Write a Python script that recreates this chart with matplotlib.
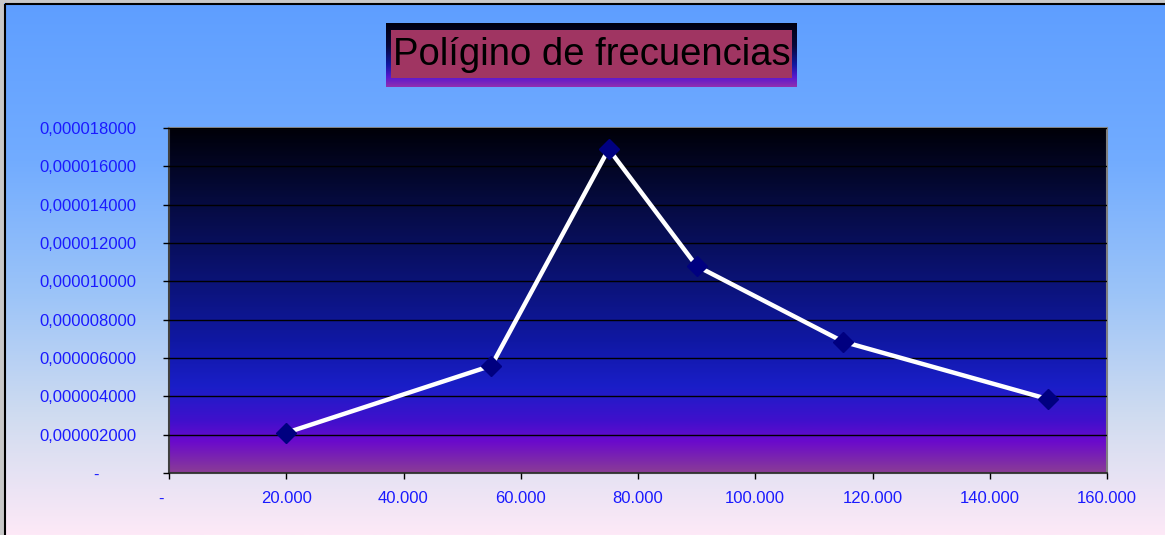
import numpy as np
import matplotlib
matplotlib.use("Agg")
import matplotlib.pyplot as plt
from matplotlib.colors import LinearSegmentedColormap
from matplotlib.patches import Rectangle
from matplotlib.ticker import FuncFormatter, MultipleLocator

plt.rcParams['font.family'] = ['Liberation Sans', 'DejaVu Sans']

# Class marks and frequency densities
class_marks = [20000, 55000, 75000, 90000, 115000, 150000]
densities = [2.1e-6, 5.6e-6, 16.9e-6, 10.8e-6, 6.85e-6, 3.85e-6]
title = "Polígino de frecuencias"

W, H = 1165, 535
fig = plt.figure(figsize=(W / 100, H / 100), dpi=100)

# Figure background gradient (blue at top, pale pink at bottom)
bg_cmap = LinearSegmentedColormap.from_list(
    "bg", [(0.0, "#5e9eff"), (0.3, "#72acff"), (0.55, "#9cc4f8"),
           (0.78, "#d0dcf0"), (1.0, "#fde9f7")])
bg = fig.add_axes([0, 0, 1, 1], zorder=-10)
bg.imshow(np.linspace(0, 1, 256).reshape(-1, 1), aspect="auto", cmap=bg_cmap,
          extent=[0, W, H, 0])
bg.set_xlim(0, W)
bg.set_ylim(H, 0)
bg.axis("off")
# frame around the chart area
bg.add_patch(Rectangle((0, 0), W, 3, facecolor="#c8c8c8", edgecolor="none"))
bg.add_patch(Rectangle((0, 0), 4, H, facecolor="#c8c8c8", edgecolor="none"))
bg.plot([5, W + 5], [4, 4], color="black", lw=1.5, solid_capstyle="butt")
bg.plot([5, 5], [4, H + 5], color="black", lw=1.5, solid_capstyle="butt")

# Title box with gradient border and mauve fill
tb = fig.add_axes([386 / W, 1 - 87 / H, (797 - 386) / W, (87 - 23) / H], zorder=5)
title_cmap = LinearSegmentedColormap.from_list(
    "tb", [(0.0, "#000010"), (0.35, "#06083a"), (0.65, "#1018a0"),
           (0.85, "#5a18d0"), (1.0, "#9030b0")])
tb.imshow(np.linspace(0, 1, 128).reshape(-1, 1), aspect="auto", cmap=title_cmap,
          extent=[0, 1, 1, 0])
tb.set_xlim(0, 1)
tb.set_ylim(1, 0)
tb.axis("off")
tb.add_patch(Rectangle((5 / 411, 7 / 64), 401 / 411, 48 / 64,
                       facecolor="#a03562", edgecolor="none"))
tb.text(0.5, 32 / 64, title, ha="center", va="center", fontsize=27.5, color="black")

# Plot area
ax = fig.add_axes([169 / W, 1 - 473 / H, (1107 - 169) / W, (473 - 128) / H], zorder=2)
plot_cmap = LinearSegmentedColormap.from_list(
    "pa", [(0.0, "#000008"), (0.2, "#050a3c"), (0.45, "#0b1378"),
           (0.62, "#1018a4"), (0.75, "#1a1ec8"), (0.85, "#4010cc"),
           (0.91, "#6a0acc"), (1.0, "#8a3c96")])
ax.imshow(np.linspace(0, 1, 256).reshape(-1, 1), aspect="auto", cmap=plot_cmap,
          extent=[0, 160000, 0, 18e-6], origin="upper", zorder=0)
ax.set_xlim(0, 160000)
ax.set_ylim(0, 18e-6)

ax.yaxis.set_major_locator(MultipleLocator(2e-6))
ax.xaxis.set_major_locator(MultipleLocator(20000))
ax.grid(axis="y", color="black", lw=1.0, zorder=1)
ax.set_axisbelow(False)

ax.plot(class_marks, densities, color="white", lw=3.2, zorder=3)
ax.plot(class_marks, densities, linestyle="none", marker="D", markersize=10,
        color="#000080", markeredgecolor="#000080", zorder=4)


# Accounting-style number formats: zero shown as a dash with trailing padding
def fmt_y(v, pos):
    if abs(v) < 1e-12:
        return "-" + " " * 8
    return f"{v:.9f}".replace(".", ",")


def fmt_x(v, pos):
    if abs(v) < 1e-6:
        return "-" + " " * 3
    return f"{int(round(v)):,}".replace(",", ".")


ax.yaxis.set_major_formatter(FuncFormatter(fmt_y))
ax.xaxis.set_major_formatter(FuncFormatter(fmt_x))
ax.tick_params(axis="both", direction="out", length=4.5, width=1, color="black",
               labelcolor="#1a1aff", labelsize=12)
ax.tick_params(axis="y", pad=19)
ax.tick_params(axis="x", pad=8.5)

for side in ("left", "bottom"):
    ax.spines[side].set_color("#404040")
    ax.spines[side].set_linewidth(1.5)
for side in ("top", "right"):
    ax.spines[side].set_color("#808080")
    ax.spines[side].set_linewidth(1.5)

fig.savefig("out.png", dpi=100)
